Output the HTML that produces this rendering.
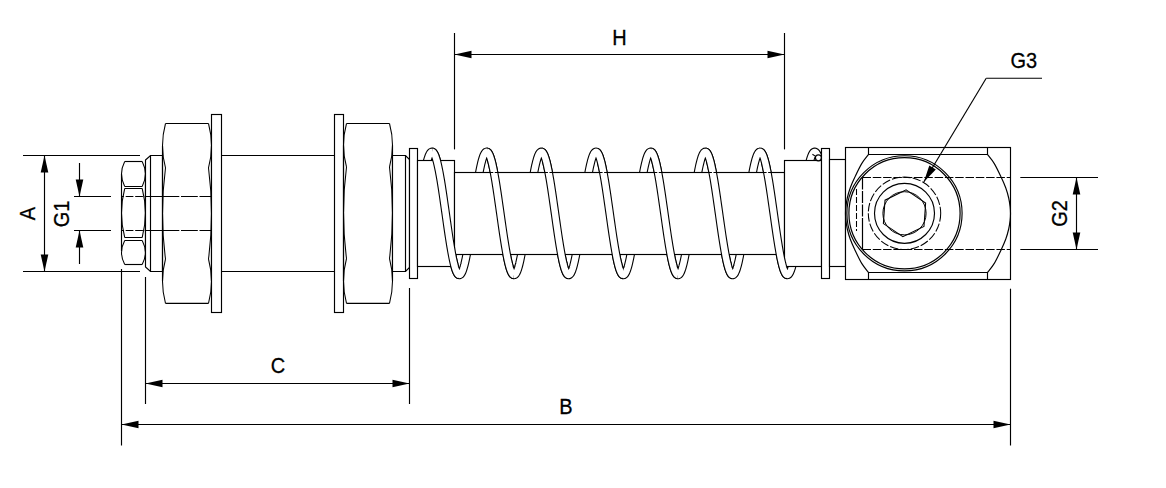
<!DOCTYPE html>
<html><head><meta charset="utf-8"><style>html,body{margin:0;padding:0;background:#fff;width:1166px;height:488px;overflow:hidden}svg{display:block}</style></head>
<body><svg width="1166" height="488" viewBox="0 0 1166 488">
<style>
line,path,rect,circle,polygon{stroke:#000;stroke-width:1.15;fill:none}
.w{fill:#fff}
.f{fill:#000;stroke:none}
.n{stroke-width:1.05}
.d{stroke-dasharray:7 4}
text{font-family:"Liberation Sans",sans-serif;font-size:22.2px;fill:#000;stroke:#000;stroke-width:0.3}
</style>
<rect x="0" y="0" width="1166" height="488" style="fill:#fff;stroke:none"/>
<line x1="23" y1="155.5" x2="140" y2="155.5"/>
<line x1="23" y1="271.5" x2="140" y2="271.5"/>
<line x1="44.5" y1="155.5" x2="44.5" y2="271.5"/>
<path class="f" d="M44.50,155.50 L48.30,172.50 L40.70,172.50 Z"/>
<path class="f" d="M44.50,271.50 L40.70,254.50 L48.30,254.50 Z"/>
<text x="0" y="0" transform="translate(34.5,213.5) rotate(-90) scale(0.9,1)" text-anchor="middle">A</text>
<line x1="74" y1="196.5" x2="111" y2="196.5"/>
<line x1="74" y1="230.5" x2="111" y2="230.5"/>
<line x1="79.5" y1="163" x2="79.5" y2="196.5"/>
<line x1="79.5" y1="230.5" x2="79.5" y2="264"/>
<path class="f" d="M79.50,196.50 L75.70,179.50 L83.30,179.50 Z"/>
<path class="f" d="M79.50,230.50 L83.30,247.50 L75.70,247.50 Z"/>
<text x="0" y="0" transform="translate(69,213.9) rotate(-90) scale(0.9,1)" text-anchor="middle">G1</text>
<rect x="121.5" y="161.5" width="24.0" height="103.0" style="fill:#fff;stroke:none"/>
<line x1="124.7" y1="161.5" x2="142.2" y2="161.5"/>
<line x1="124.7" y1="264.5" x2="142.2" y2="264.5"/>
<line x1="121.5" y1="174" x2="121.5" y2="251"/>
<line x1="145.5" y1="174" x2="145.5" y2="251"/>
<path class="n" d="M124.7,161.5 Q118.3,174.0 124.7,186.5 M142.2,161.5 Q148.6,174.0 142.2,186.5"/>
<path class="n" d="M124.7,188.5 Q118.3,213.0 124.7,237.5 M142.2,188.5 Q148.6,213.0 142.2,237.5"/>
<path class="n" d="M124.7,240.5 Q118.3,252.5 124.7,264.5 M142.2,240.5 Q148.6,252.5 142.2,264.5"/>
<line x1="124.7" y1="186.5" x2="142.2" y2="186.5" class="n"/>
<line x1="124.7" y1="188.5" x2="142.2" y2="188.5" class="n"/>
<line x1="124.7" y1="237.5" x2="142.2" y2="237.5" class="n"/>
<line x1="124.7" y1="240.5" x2="142.2" y2="240.5" class="n"/>
<path class="w" d="M145.5,160 L150.5,155.5 L162.5,155.5 L162.5,271.5 L150.5,271.5 L145.5,267 Z"/>
<line x1="150.5" y1="155.5" x2="150.5" y2="271.5"/>
<path class="w" d="M165.5,123.5 L208.5,123.5 L208.5,303.3 L165.5,303.3 Z" style="stroke:none"/>
<line x1="165.5" y1="123.5" x2="208.5" y2="123.5"/>
<line x1="165.5" y1="303.3" x2="208.5" y2="303.3"/>
<line x1="162.5" y1="145.65" x2="162.5" y2="281.15"/>
<line x1="211.5" y1="145.65" x2="211.5" y2="281.15"/>
<path class="n" d="M165.5,123.5 Q159.5,145.65 165.5,167.8 M208.5,123.5 Q214.5,145.65 208.5,167.8 M165.5,167.8 Q159.5,213.4 165.5,259.0 M208.5,167.8 Q214.5,213.4 208.5,259.0 M165.5,259.0 Q159.5,281.15 165.5,303.3 M208.5,259.0 Q214.5,281.15 208.5,303.3 "/>
<rect x="211.5" y="114.5" width="10.0" height="198.0" class="w"/>
<line x1="221.5" y1="155.5" x2="334.5" y2="155.5"/>
<line x1="221.5" y1="271.5" x2="334.5" y2="271.5"/>
<rect x="334.5" y="114.5" width="9.0" height="198.0" class="w"/>
<path class="w" d="M346.5,123.5 L389.5,123.5 L389.5,303.3 L346.5,303.3 Z" style="stroke:none"/>
<line x1="346.5" y1="123.5" x2="389.5" y2="123.5"/>
<line x1="346.5" y1="303.3" x2="389.5" y2="303.3"/>
<line x1="343.5" y1="145.25" x2="343.5" y2="280.9"/>
<line x1="392.5" y1="145.25" x2="392.5" y2="280.9"/>
<path class="n" d="M346.5,123.5 Q340.5,145.25 346.5,167.0 M389.5,123.5 Q395.5,145.25 389.5,167.0 M346.5,167.0 Q340.5,212.75 346.5,258.5 M389.5,167.0 Q395.5,212.75 389.5,258.5 M346.5,258.5 Q340.5,280.9 346.5,303.3 M389.5,258.5 Q395.5,280.9 389.5,303.3 "/>
<path class="w" d="M392.5,155.5 L405.5,155.5 L409.5,159.5 L409.5,267.5 L405.5,271.5 L392.5,271.5 Z"/>
<line x1="405.5" y1="155.5" x2="405.5" y2="271.5"/>
<path class="n" style="stroke-dasharray:7.7 1.8;stroke-dashoffset:5.3" d="M121.5,196.5 H145.5 M121.5,230.5 H145.5"/>
<line x1="145.5" y1="196.5" x2="162.5" y2="196.5" class="n"/>
<line x1="145.5" y1="230.5" x2="162.5" y2="230.5" class="n"/>
<path class="n" style="stroke-dasharray:16.8 1.7" d="M162.5,196.5 H211.5 M162.5,230.5 H211.5"/>
<defs><clipPath id="cl"><rect x="432" y="0" width="27" height="488"/><rect x="487" y="0" width="27" height="488"/><rect x="542" y="0" width="26" height="488"/><rect x="597" y="0" width="26" height="488"/><rect x="651" y="0" width="27" height="488"/><rect x="706" y="0" width="26" height="488"/><rect x="761" y="0" width="26" height="488"/></clipPath></defs>
<g><path d="M418.33,213.40 L418.77,210.32 L419.20,207.25 L419.64,204.20 L420.07,201.16 L420.51,198.16 L420.94,195.20 L421.38,192.28 L421.82,189.42 L422.25,186.61 L422.69,183.87 L423.12,181.21 L423.56,178.63 L423.99,176.13 L424.43,173.73 L424.86,171.42 L425.30,169.23 L425.73,167.14 L426.17,165.17 L426.60,163.31 L427.04,161.59 L427.47,159.99 L427.91,158.53 L428.34,157.20 L428.78,156.02 L429.22,154.98 L429.65,154.08 L430.09,153.33 L430.52,152.74 L430.96,152.29 L431.39,152.00 L431.83,151.86 L432.26,151.88 L432.70,152.05 L433.13,152.37 L433.57,152.85 L434.00,153.48 L434.44,154.25 L434.87,155.18 L435.31,156.25 L435.75,157.46 L436.18,158.82 L436.62,160.31 L437.05,161.93 L437.49,163.69 L437.92,165.56 L438.36,167.56 L438.79,169.67 L439.23,171.89 L439.66,174.22 L440.10,176.64 L440.53,179.15 L440.97,181.75 L441.40,184.43 L441.84,187.19 L442.27,190.00 L442.71,192.88 L443.15,195.81 L443.58,198.78 L444.02,201.79 L444.45,204.83 L444.89,207.88 L445.32,210.96 L445.76,214.04 L446.19,217.11 L446.63,220.18 L447.06,223.23 L447.50,226.26 L447.93,229.25 L448.37,232.21 L448.80,235.11 L449.24,237.97 L449.68,240.76 L450.11,243.48 L450.55,246.13 L450.98,248.70 L451.42,251.17 L451.85,253.56 L452.29,255.84 L452.72,258.01 L453.16,260.08 L453.59,262.03 L454.03,263.85 L454.46,265.55 L454.90,267.12 L455.33,268.56 L455.77,269.85 L456.21,271.01 L456.64,272.02 L457.08,272.89 L457.51,273.60 L457.95,274.17 L458.38,274.58 L458.82,274.84 L459.25,274.95 L459.69,274.90 L460.12,274.70 L460.56,274.34 L460.99,273.84 L461.43,273.18 L461.86,272.37 L462.30,271.41 L462.73,270.31 L463.17,269.07 L463.61,267.68 L464.04,266.17 L464.48,264.52 L464.91,262.74 L465.35,260.83 L465.78,258.81 L466.22,256.68 L466.65,254.44 L467.09,252.09 L467.52,249.65 L467.96,247.12 L468.39,244.50 L468.83,241.80 L469.26,239.04 L469.70,236.21 L470.14,233.32 L470.57,230.38 L471.01,227.40 L471.44,224.39 L471.88,221.34 L472.31,218.28 L472.75,215.21 L473.18,212.13 L473.62,209.05 L474.05,205.99 L474.49,202.94 L474.92,199.92 L475.36,196.93 L475.79,193.99 L476.23,191.09 L476.66,188.25 L477.10,185.47 L477.54,182.76 L477.97,180.13 L478.41,177.59 L478.84,175.13 L479.28,172.76 L479.71,170.50 L480.15,168.35 L480.58,166.31 L481.02,164.39 L481.45,162.58 L481.89,160.91 L482.32,159.37 L482.76,157.96 L483.19,156.69 L483.63,155.57 L484.07,154.59 L484.50,153.75 L484.94,153.07 L485.37,152.53 L485.81,152.15 L486.24,151.92 L486.68,151.85 L487.11,151.93 L487.55,152.16 L487.98,152.55 L488.42,153.09 L488.85,153.78 L489.29,154.62 L489.72,155.60 L490.16,156.73 L490.60,158.01 L491.03,159.42 L491.47,160.96 L491.90,162.64 L492.34,164.45 L492.77,166.37 L493.21,168.42 L493.64,170.58 L494.08,172.84 L494.51,175.21 L494.95,177.67 L495.38,180.22 L495.82,182.85 L496.25,185.56 L496.69,188.34 L497.12,191.19 L497.56,194.08 L498.00,197.03 L498.43,200.02 L498.87,203.04 L499.30,206.09 L499.74,209.15 L500.17,212.23 L500.61,215.31 L501.04,218.38 L501.48,221.44 L501.91,224.49 L502.35,227.50 L502.78,230.48 L503.22,233.41 L503.65,236.30 L504.09,239.13 L504.53,241.89 L504.96,244.59 L505.40,247.20 L505.83,249.73 L506.27,252.17 L506.70,254.51 L507.14,256.75 L507.57,258.88 L508.01,260.90 L508.44,262.80 L508.88,264.57 L509.31,266.22 L509.75,267.73 L510.18,269.11 L510.62,270.35 L511.05,271.45 L511.49,272.40 L511.93,273.20 L512.36,273.85 L512.80,274.36 L513.23,274.71 L513.67,274.90 L514.10,274.95 L514.54,274.83 L514.97,274.57 L515.41,274.15 L515.84,273.58 L516.28,272.86 L516.71,271.99 L517.15,270.97 L517.58,269.81 L518.02,268.51 L518.46,267.07 L518.89,265.50 L519.33,263.80 L519.76,261.97 L520.20,260.01 L520.63,257.95 L521.07,255.77 L521.50,253.48 L521.94,251.09 L522.37,248.61 L522.81,246.04 L523.24,243.39 L523.68,240.67 L524.11,237.87 L524.55,235.02 L524.98,232.11 L525.42,229.15 L525.86,226.16 L526.29,223.13 L526.73,220.08 L527.16,217.01 L527.60,213.93 L528.03,210.86 L528.47,207.78 L528.90,204.73 L529.34,201.69 L529.77,198.68 L530.21,195.71 L530.64,192.79 L531.08,189.91 L531.51,187.10 L531.95,184.35 L532.39,181.67 L532.82,179.07 L533.26,176.56 L533.69,174.14 L534.13,171.82 L534.56,169.60 L535.00,167.49 L535.43,165.50 L535.87,163.63 L536.30,161.88 L536.74,160.26 L537.17,158.77 L537.61,157.42 L538.04,156.21 L538.48,155.15 L538.92,154.22 L539.35,153.45 L539.79,152.83 L540.22,152.36 L540.66,152.04 L541.09,151.88 L541.53,151.86 L541.96,152.01 L542.40,152.30 L542.83,152.75 L543.27,153.36 L543.70,154.11 L544.14,155.01 L544.57,156.05 L545.01,157.24 L545.44,158.57 L545.88,160.04 L546.32,161.64 L546.75,163.37 L547.19,165.23 L547.62,167.20 L548.06,169.30 L548.49,171.50 L548.93,173.81 L549.36,176.21 L549.80,178.71 L550.23,181.30 L550.67,183.96 L551.10,186.70 L551.54,189.51 L551.97,192.38 L552.41,195.30 L552.85,198.26 L553.28,201.26 L553.72,204.30 L554.15,207.35 L554.59,210.42 L555.02,213.50 L555.46,216.58 L555.89,219.65 L556.33,222.70 L556.76,225.73 L557.20,228.73 L557.63,231.70 L558.07,234.61 L558.50,237.48 L558.94,240.28 L559.37,243.01 L559.81,245.68 L560.25,248.26 L560.68,250.75 L561.12,253.15 L561.55,255.45 L561.99,257.64 L562.42,259.73 L562.86,261.70 L563.29,263.55 L563.73,265.27 L564.16,266.86 L564.60,268.32 L565.03,269.64 L565.47,270.82 L565.90,271.86 L566.34,272.75 L566.78,273.49 L567.21,274.08 L567.65,274.52 L568.08,274.81 L568.52,274.94 L568.95,274.92 L569.39,274.74 L569.82,274.42 L570.26,273.93 L570.69,273.30 L571.13,272.52 L571.56,271.59 L572.00,270.51 L572.43,269.29 L572.87,267.93 L573.31,266.44 L573.74,264.81 L574.18,263.05 L574.61,261.17 L575.05,259.17 L575.48,257.06 L575.92,254.83 L576.35,252.51 L576.79,250.08 L577.22,247.56 L577.66,244.96 L578.09,242.28 L578.53,239.52 L578.96,236.70 L579.40,233.82 L579.83,230.89 L580.27,227.92 L580.71,224.91 L581.14,221.87 L581.58,218.81 L582.01,215.74 L582.45,212.66 L582.88,209.59 L583.32,206.52 L583.75,203.47 L584.19,200.44 L584.62,197.45 L585.06,194.50 L585.49,191.59 L585.93,188.74 L586.36,185.95 L586.80,183.23 L587.24,180.58 L587.67,178.02 L588.11,175.55 L588.54,173.17 L588.98,170.89 L589.41,168.72 L589.85,166.65 L590.28,164.71 L590.72,162.89 L591.15,161.19 L591.59,159.63 L592.02,158.20 L592.46,156.90 L592.89,155.75 L593.33,154.75 L593.76,153.89 L594.20,153.18 L594.64,152.62 L595.07,152.21 L595.51,151.95 L595.94,151.85 L596.38,151.90 L596.81,152.11 L597.25,152.47 L597.68,152.98 L598.12,153.65 L598.55,154.46 L598.99,155.42 L599.42,156.53 L599.86,157.78 L600.29,159.16 L600.73,160.69 L601.17,162.34 L601.60,164.12 L602.04,166.03 L602.47,168.06 L602.91,170.19 L603.34,172.44 L603.78,174.79 L604.21,177.23 L604.65,179.77 L605.08,182.39 L605.52,185.09 L605.95,187.86 L606.39,190.69 L606.82,193.58 L607.26,196.52 L607.70,199.50 L608.13,202.51 L608.57,205.56 L609.00,208.62 L609.44,211.69 L609.87,214.77 L610.31,217.85 L610.74,220.91 L611.18,223.96 L611.61,226.98 L612.05,229.96 L612.48,232.91 L612.92,235.80 L613.35,238.64 L613.79,241.42 L614.22,244.12 L614.66,246.75 L615.10,249.30 L615.53,251.75 L615.97,254.11 L616.40,256.37 L616.84,258.52 L617.27,260.56 L617.71,262.48 L618.14,264.27 L618.58,265.94 L619.01,267.48 L619.45,268.88 L619.88,270.14 L620.32,271.27 L620.75,272.24 L621.19,273.07 L621.63,273.75 L622.06,274.28 L622.50,274.66 L622.93,274.88 L623.37,274.95 L623.80,274.87 L624.24,274.63 L624.67,274.24 L625.11,273.69 L625.54,273.00 L625.98,272.15 L626.41,271.16 L626.85,270.03 L627.28,268.75 L627.72,267.33 L628.15,265.78 L628.59,264.10 L629.03,262.29 L629.46,260.36 L629.90,258.31 L630.33,256.15 L630.77,253.88 L631.20,251.51 L631.64,249.05 L632.07,246.50 L632.51,243.86 L632.94,241.15 L633.38,238.36 L633.81,235.52 L634.25,232.62 L634.68,229.67 L635.12,226.68 L635.56,223.66 L635.99,220.61 L636.43,217.55 L636.86,214.47 L637.30,211.39 L637.73,208.32 L638.17,205.26 L638.60,202.21 L639.04,199.20 L639.47,196.22 L639.91,193.29 L640.34,190.41 L640.78,187.58 L641.21,184.82 L641.65,182.13 L642.09,179.52 L642.52,176.99 L642.96,174.55 L643.39,172.21 L643.83,169.98 L644.26,167.85 L644.70,165.84 L645.13,163.94 L645.57,162.17 L646.00,160.53 L646.44,159.02 L646.87,157.65 L647.31,156.41 L647.74,155.32 L648.18,154.37 L648.61,153.58 L649.05,152.93 L649.49,152.43 L649.92,152.08 L650.36,151.89 L650.79,151.86 L651.23,151.97 L651.66,152.24 L652.10,152.66 L652.53,153.24 L652.97,153.97 L653.40,154.84 L653.84,155.86 L654.27,157.03 L654.71,158.33 L655.14,159.78 L655.58,161.35 L656.02,163.06 L656.45,164.90 L656.89,166.85 L657.32,168.92 L657.76,171.11 L658.19,173.40 L658.63,175.79 L659.06,178.27 L659.50,180.84 L659.93,183.50 L660.37,186.22 L660.80,189.02 L661.24,191.88 L661.67,194.79 L662.11,197.74 L662.54,200.74 L662.98,203.77 L663.42,206.82 L663.85,209.89 L664.29,212.97 L664.72,216.05 L665.16,219.12 L665.59,222.17 L666.03,225.21 L666.46,228.22 L666.90,231.19 L667.33,234.11 L667.77,236.98 L668.20,239.80 L668.64,242.54 L669.07,245.22 L669.51,247.81 L669.95,250.32 L670.38,252.74 L670.82,255.06 L671.25,257.27 L671.69,259.38 L672.12,261.36 L672.56,263.23 L672.99,264.98 L673.43,266.59 L673.86,268.07 L674.30,269.42 L674.73,270.63 L675.17,271.69 L675.60,272.60 L676.04,273.37 L676.48,273.99 L676.91,274.45 L677.35,274.77 L677.78,274.93 L678.22,274.93 L678.65,274.79 L679.09,274.48 L679.52,274.03 L679.96,273.42 L680.39,272.67 L680.83,271.76 L681.26,270.71 L681.70,269.52 L682.13,268.18 L682.57,266.71 L683.00,265.10 L683.44,263.37 L683.88,261.51 L684.31,259.53 L684.75,257.43 L685.18,255.23 L685.62,252.92 L686.05,250.51 L686.49,248.01 L686.92,245.42 L687.36,242.75 L687.79,240.00 L688.23,237.20 L688.66,234.33 L689.10,231.41 L689.53,228.44 L689.97,225.44 L690.41,222.40 L690.84,219.35 L691.28,216.28 L691.71,213.20 L692.15,210.12 L692.58,207.05 L693.02,204.00 L693.45,200.97 L693.89,197.97 L694.32,195.01 L694.76,192.09 L695.19,189.23 L695.63,186.43 L696.06,183.70 L696.50,181.04 L696.93,178.46 L697.37,175.97 L697.81,173.57 L698.24,171.28 L698.68,169.08 L699.11,167.00 L699.55,165.04 L699.98,163.20 L700.42,161.48 L700.85,159.89 L701.29,158.44 L701.72,157.12 L702.16,155.94 L702.59,154.91 L703.03,154.03 L703.46,153.29 L703.90,152.70 L704.34,152.27 L704.77,151.99 L705.21,151.86 L705.64,151.88 L706.08,152.06 L706.51,152.40 L706.95,152.88 L707.38,153.52 L707.82,154.31 L708.25,155.24 L708.69,156.33 L709.12,157.55 L709.56,158.91 L709.99,160.41 L710.43,162.04 L710.87,163.81 L711.30,165.69 L711.74,167.70 L712.17,169.81 L712.61,172.04 L713.04,174.37 L713.48,176.80 L713.91,179.32 L714.35,181.93 L714.78,184.61 L715.22,187.37 L715.65,190.19 L716.09,193.07 L716.52,196.00 L716.96,198.98 L717.39,201.99 L717.83,205.03 L718.27,208.09 L718.70,211.16 L719.14,214.24 L719.57,217.32 L720.01,220.38 L720.44,223.43 L720.88,226.46 L721.31,229.45 L721.75,232.40 L722.18,235.30 L722.62,238.15 L723.05,240.94 L723.49,243.66 L723.92,246.30 L724.36,248.86 L724.80,251.33 L725.23,253.71 L725.67,255.99 L726.10,258.15 L726.54,260.21 L726.97,262.15 L727.41,263.97 L727.84,265.66 L728.28,267.22 L728.71,268.65 L729.15,269.94 L729.58,271.08 L730.02,272.08 L730.45,272.94 L730.89,273.64 L731.32,274.20 L731.76,274.60 L732.20,274.85 L732.63,274.95 L733.07,274.89 L733.50,274.68 L733.94,274.31 L734.37,273.80 L734.81,273.13 L735.24,272.31 L735.68,271.34 L736.11,270.23 L736.55,268.98 L736.98,267.59 L737.42,266.06 L737.85,264.40 L738.29,262.62 L738.73,260.70 L739.16,258.68 L739.60,256.53 L740.03,254.28 L740.47,251.93 L740.90,249.48 L741.34,246.95 L741.77,244.32 L742.21,241.62 L742.64,238.85 L743.08,236.02 L743.51,233.13 L743.95,230.19 L744.38,227.20 L744.82,224.19 L745.26,221.14 L745.69,218.08 L746.13,215.00 L746.56,211.93 L747.00,208.85 L747.43,205.79 L747.87,202.74 L748.30,199.72 L748.74,196.74 L749.17,193.80 L749.61,190.90 L750.04,188.07 L750.48,185.29 L750.91,182.59 L751.35,179.96 L751.78,177.42 L752.22,174.97 L752.66,172.61 L753.09,170.36 L753.53,168.21 L753.96,166.18 L754.40,164.26 L754.83,162.47 L755.27,160.81 L755.70,159.27 L756.14,157.88 L756.57,156.62 L757.01,155.50 L757.44,154.53 L757.88,153.70 L758.31,153.03 L758.75,152.50 L759.19,152.13 L759.62,151.91 L760.06,151.85 L760.49,151.94 L760.93,152.18 L761.36,152.58 L761.80,153.13 L762.23,153.83 L762.67,154.68 L763.10,155.67 L763.54,156.81 L763.97,158.10 L764.41,159.52 L764.84,161.07 L765.28,162.76 L765.71,164.57 L766.15,166.50 L766.59,168.56 L767.02,170.72 L767.46,172.99 L767.89,175.37 L768.33,177.83 L768.76,180.39 L769.20,183.03 L769.63,185.74 L770.07,188.53 L770.50,191.38 L770.94,194.28 L771.37,197.23 L771.81,200.22 L772.24,203.24 L772.68,206.29 L773.12,209.36 L773.55,212.43 L773.99,215.51 L774.42,218.58 L774.86,221.64 L775.29,224.68 L775.73,227.70 L776.16,230.67 L776.60,233.61 L777.03,236.49 L777.47,239.31 L777.90,242.07 L778.34,244.76 L778.77,247.37 L779.21,249.89 L779.65,252.33 L780.08,254.66 L780.52,256.89 L780.95,259.02 L781.39,261.03 L781.82,262.92 L782.26,264.68 L782.69,266.32 L783.13,267.83 L783.56,269.20 L784.00,270.43 L784.43,271.51 L784.87,272.45 L785.30,273.25 L785.74,273.89 L786.17,274.38 L786.61,274.72 L787.05,274.91 L787.48,274.94 L787.92,274.82 L788.35,274.55 L788.79,274.12 L789.22,273.54 L789.66,272.81 L790.09,271.93 L790.53,270.90 L790.96,269.73 L791.40,268.42 L791.83,266.97 L792.27,265.39 L792.70,263.68 L793.14,261.84 L793.58,259.88 L794.01,257.80 L794.45,255.62 L794.88,253.33 L795.32,250.93 L795.75,248.45 L796.19,245.87 L796.62,243.22 L797.06,240.49 L797.49,237.69 L797.93,234.83 L798.36,231.92 L798.80,228.96 L799.23,225.96 L799.67,222.93 L800.10,219.88 L800.54,216.81 L800.98,213.73 L801.41,210.65 L801.85,207.58 L802.28,204.53 L802.72,201.49 L803.15,198.49 L803.59,195.52 L804.02,192.59 L804.46,189.72 L804.89,186.91 L805.33,184.17 L805.76,181.49 L806.20,178.90 L806.63,176.40 L807.07,173.98 L807.51,171.67 L807.94,169.46 L808.38,167.36 L808.81,165.37 L809.25,163.51 L809.68,161.77 L810.12,160.16 L810.55,158.68 L810.99,157.34 L811.42,156.14 L811.86,155.08 L812.29,154.17 L812.73,153.41 L813.16,152.79 L813.60,152.33 L814.04,152.02 L814.47,151.87 L814.91,151.87 L815.34,152.02 L815.78,152.33 L816.21,152.79 L816.65,153.40 L817.08,154.16 L817.52,155.07 L817.95,156.13" style="stroke:#000;stroke-width:8.6;stroke-linejoin:round"/><path d="M418.33,213.40 L418.77,210.32 L419.20,207.25 L419.64,204.20 L420.07,201.16 L420.51,198.16 L420.94,195.20 L421.38,192.28 L421.82,189.42 L422.25,186.61 L422.69,183.87 L423.12,181.21 L423.56,178.63 L423.99,176.13 L424.43,173.73 L424.86,171.42 L425.30,169.23 L425.73,167.14 L426.17,165.17 L426.60,163.31 L427.04,161.59 L427.47,159.99 L427.91,158.53 L428.34,157.20 L428.78,156.02 L429.22,154.98 L429.65,154.08 L430.09,153.33 L430.52,152.74 L430.96,152.29 L431.39,152.00 L431.83,151.86 L432.26,151.88 L432.70,152.05 L433.13,152.37 L433.57,152.85 L434.00,153.48 L434.44,154.25 L434.87,155.18 L435.31,156.25 L435.75,157.46 L436.18,158.82 L436.62,160.31 L437.05,161.93 L437.49,163.69 L437.92,165.56 L438.36,167.56 L438.79,169.67 L439.23,171.89 L439.66,174.22 L440.10,176.64 L440.53,179.15 L440.97,181.75 L441.40,184.43 L441.84,187.19 L442.27,190.00 L442.71,192.88 L443.15,195.81 L443.58,198.78 L444.02,201.79 L444.45,204.83 L444.89,207.88 L445.32,210.96 L445.76,214.04 L446.19,217.11 L446.63,220.18 L447.06,223.23 L447.50,226.26 L447.93,229.25 L448.37,232.21 L448.80,235.11 L449.24,237.97 L449.68,240.76 L450.11,243.48 L450.55,246.13 L450.98,248.70 L451.42,251.17 L451.85,253.56 L452.29,255.84 L452.72,258.01 L453.16,260.08 L453.59,262.03 L454.03,263.85 L454.46,265.55 L454.90,267.12 L455.33,268.56 L455.77,269.85 L456.21,271.01 L456.64,272.02 L457.08,272.89 L457.51,273.60 L457.95,274.17 L458.38,274.58 L458.82,274.84 L459.25,274.95 L459.69,274.90 L460.12,274.70 L460.56,274.34 L460.99,273.84 L461.43,273.18 L461.86,272.37 L462.30,271.41 L462.73,270.31 L463.17,269.07 L463.61,267.68 L464.04,266.17 L464.48,264.52 L464.91,262.74 L465.35,260.83 L465.78,258.81 L466.22,256.68 L466.65,254.44 L467.09,252.09 L467.52,249.65 L467.96,247.12 L468.39,244.50 L468.83,241.80 L469.26,239.04 L469.70,236.21 L470.14,233.32 L470.57,230.38 L471.01,227.40 L471.44,224.39 L471.88,221.34 L472.31,218.28 L472.75,215.21 L473.18,212.13 L473.62,209.05 L474.05,205.99 L474.49,202.94 L474.92,199.92 L475.36,196.93 L475.79,193.99 L476.23,191.09 L476.66,188.25 L477.10,185.47 L477.54,182.76 L477.97,180.13 L478.41,177.59 L478.84,175.13 L479.28,172.76 L479.71,170.50 L480.15,168.35 L480.58,166.31 L481.02,164.39 L481.45,162.58 L481.89,160.91 L482.32,159.37 L482.76,157.96 L483.19,156.69 L483.63,155.57 L484.07,154.59 L484.50,153.75 L484.94,153.07 L485.37,152.53 L485.81,152.15 L486.24,151.92 L486.68,151.85 L487.11,151.93 L487.55,152.16 L487.98,152.55 L488.42,153.09 L488.85,153.78 L489.29,154.62 L489.72,155.60 L490.16,156.73 L490.60,158.01 L491.03,159.42 L491.47,160.96 L491.90,162.64 L492.34,164.45 L492.77,166.37 L493.21,168.42 L493.64,170.58 L494.08,172.84 L494.51,175.21 L494.95,177.67 L495.38,180.22 L495.82,182.85 L496.25,185.56 L496.69,188.34 L497.12,191.19 L497.56,194.08 L498.00,197.03 L498.43,200.02 L498.87,203.04 L499.30,206.09 L499.74,209.15 L500.17,212.23 L500.61,215.31 L501.04,218.38 L501.48,221.44 L501.91,224.49 L502.35,227.50 L502.78,230.48 L503.22,233.41 L503.65,236.30 L504.09,239.13 L504.53,241.89 L504.96,244.59 L505.40,247.20 L505.83,249.73 L506.27,252.17 L506.70,254.51 L507.14,256.75 L507.57,258.88 L508.01,260.90 L508.44,262.80 L508.88,264.57 L509.31,266.22 L509.75,267.73 L510.18,269.11 L510.62,270.35 L511.05,271.45 L511.49,272.40 L511.93,273.20 L512.36,273.85 L512.80,274.36 L513.23,274.71 L513.67,274.90 L514.10,274.95 L514.54,274.83 L514.97,274.57 L515.41,274.15 L515.84,273.58 L516.28,272.86 L516.71,271.99 L517.15,270.97 L517.58,269.81 L518.02,268.51 L518.46,267.07 L518.89,265.50 L519.33,263.80 L519.76,261.97 L520.20,260.01 L520.63,257.95 L521.07,255.77 L521.50,253.48 L521.94,251.09 L522.37,248.61 L522.81,246.04 L523.24,243.39 L523.68,240.67 L524.11,237.87 L524.55,235.02 L524.98,232.11 L525.42,229.15 L525.86,226.16 L526.29,223.13 L526.73,220.08 L527.16,217.01 L527.60,213.93 L528.03,210.86 L528.47,207.78 L528.90,204.73 L529.34,201.69 L529.77,198.68 L530.21,195.71 L530.64,192.79 L531.08,189.91 L531.51,187.10 L531.95,184.35 L532.39,181.67 L532.82,179.07 L533.26,176.56 L533.69,174.14 L534.13,171.82 L534.56,169.60 L535.00,167.49 L535.43,165.50 L535.87,163.63 L536.30,161.88 L536.74,160.26 L537.17,158.77 L537.61,157.42 L538.04,156.21 L538.48,155.15 L538.92,154.22 L539.35,153.45 L539.79,152.83 L540.22,152.36 L540.66,152.04 L541.09,151.88 L541.53,151.86 L541.96,152.01 L542.40,152.30 L542.83,152.75 L543.27,153.36 L543.70,154.11 L544.14,155.01 L544.57,156.05 L545.01,157.24 L545.44,158.57 L545.88,160.04 L546.32,161.64 L546.75,163.37 L547.19,165.23 L547.62,167.20 L548.06,169.30 L548.49,171.50 L548.93,173.81 L549.36,176.21 L549.80,178.71 L550.23,181.30 L550.67,183.96 L551.10,186.70 L551.54,189.51 L551.97,192.38 L552.41,195.30 L552.85,198.26 L553.28,201.26 L553.72,204.30 L554.15,207.35 L554.59,210.42 L555.02,213.50 L555.46,216.58 L555.89,219.65 L556.33,222.70 L556.76,225.73 L557.20,228.73 L557.63,231.70 L558.07,234.61 L558.50,237.48 L558.94,240.28 L559.37,243.01 L559.81,245.68 L560.25,248.26 L560.68,250.75 L561.12,253.15 L561.55,255.45 L561.99,257.64 L562.42,259.73 L562.86,261.70 L563.29,263.55 L563.73,265.27 L564.16,266.86 L564.60,268.32 L565.03,269.64 L565.47,270.82 L565.90,271.86 L566.34,272.75 L566.78,273.49 L567.21,274.08 L567.65,274.52 L568.08,274.81 L568.52,274.94 L568.95,274.92 L569.39,274.74 L569.82,274.42 L570.26,273.93 L570.69,273.30 L571.13,272.52 L571.56,271.59 L572.00,270.51 L572.43,269.29 L572.87,267.93 L573.31,266.44 L573.74,264.81 L574.18,263.05 L574.61,261.17 L575.05,259.17 L575.48,257.06 L575.92,254.83 L576.35,252.51 L576.79,250.08 L577.22,247.56 L577.66,244.96 L578.09,242.28 L578.53,239.52 L578.96,236.70 L579.40,233.82 L579.83,230.89 L580.27,227.92 L580.71,224.91 L581.14,221.87 L581.58,218.81 L582.01,215.74 L582.45,212.66 L582.88,209.59 L583.32,206.52 L583.75,203.47 L584.19,200.44 L584.62,197.45 L585.06,194.50 L585.49,191.59 L585.93,188.74 L586.36,185.95 L586.80,183.23 L587.24,180.58 L587.67,178.02 L588.11,175.55 L588.54,173.17 L588.98,170.89 L589.41,168.72 L589.85,166.65 L590.28,164.71 L590.72,162.89 L591.15,161.19 L591.59,159.63 L592.02,158.20 L592.46,156.90 L592.89,155.75 L593.33,154.75 L593.76,153.89 L594.20,153.18 L594.64,152.62 L595.07,152.21 L595.51,151.95 L595.94,151.85 L596.38,151.90 L596.81,152.11 L597.25,152.47 L597.68,152.98 L598.12,153.65 L598.55,154.46 L598.99,155.42 L599.42,156.53 L599.86,157.78 L600.29,159.16 L600.73,160.69 L601.17,162.34 L601.60,164.12 L602.04,166.03 L602.47,168.06 L602.91,170.19 L603.34,172.44 L603.78,174.79 L604.21,177.23 L604.65,179.77 L605.08,182.39 L605.52,185.09 L605.95,187.86 L606.39,190.69 L606.82,193.58 L607.26,196.52 L607.70,199.50 L608.13,202.51 L608.57,205.56 L609.00,208.62 L609.44,211.69 L609.87,214.77 L610.31,217.85 L610.74,220.91 L611.18,223.96 L611.61,226.98 L612.05,229.96 L612.48,232.91 L612.92,235.80 L613.35,238.64 L613.79,241.42 L614.22,244.12 L614.66,246.75 L615.10,249.30 L615.53,251.75 L615.97,254.11 L616.40,256.37 L616.84,258.52 L617.27,260.56 L617.71,262.48 L618.14,264.27 L618.58,265.94 L619.01,267.48 L619.45,268.88 L619.88,270.14 L620.32,271.27 L620.75,272.24 L621.19,273.07 L621.63,273.75 L622.06,274.28 L622.50,274.66 L622.93,274.88 L623.37,274.95 L623.80,274.87 L624.24,274.63 L624.67,274.24 L625.11,273.69 L625.54,273.00 L625.98,272.15 L626.41,271.16 L626.85,270.03 L627.28,268.75 L627.72,267.33 L628.15,265.78 L628.59,264.10 L629.03,262.29 L629.46,260.36 L629.90,258.31 L630.33,256.15 L630.77,253.88 L631.20,251.51 L631.64,249.05 L632.07,246.50 L632.51,243.86 L632.94,241.15 L633.38,238.36 L633.81,235.52 L634.25,232.62 L634.68,229.67 L635.12,226.68 L635.56,223.66 L635.99,220.61 L636.43,217.55 L636.86,214.47 L637.30,211.39 L637.73,208.32 L638.17,205.26 L638.60,202.21 L639.04,199.20 L639.47,196.22 L639.91,193.29 L640.34,190.41 L640.78,187.58 L641.21,184.82 L641.65,182.13 L642.09,179.52 L642.52,176.99 L642.96,174.55 L643.39,172.21 L643.83,169.98 L644.26,167.85 L644.70,165.84 L645.13,163.94 L645.57,162.17 L646.00,160.53 L646.44,159.02 L646.87,157.65 L647.31,156.41 L647.74,155.32 L648.18,154.37 L648.61,153.58 L649.05,152.93 L649.49,152.43 L649.92,152.08 L650.36,151.89 L650.79,151.86 L651.23,151.97 L651.66,152.24 L652.10,152.66 L652.53,153.24 L652.97,153.97 L653.40,154.84 L653.84,155.86 L654.27,157.03 L654.71,158.33 L655.14,159.78 L655.58,161.35 L656.02,163.06 L656.45,164.90 L656.89,166.85 L657.32,168.92 L657.76,171.11 L658.19,173.40 L658.63,175.79 L659.06,178.27 L659.50,180.84 L659.93,183.50 L660.37,186.22 L660.80,189.02 L661.24,191.88 L661.67,194.79 L662.11,197.74 L662.54,200.74 L662.98,203.77 L663.42,206.82 L663.85,209.89 L664.29,212.97 L664.72,216.05 L665.16,219.12 L665.59,222.17 L666.03,225.21 L666.46,228.22 L666.90,231.19 L667.33,234.11 L667.77,236.98 L668.20,239.80 L668.64,242.54 L669.07,245.22 L669.51,247.81 L669.95,250.32 L670.38,252.74 L670.82,255.06 L671.25,257.27 L671.69,259.38 L672.12,261.36 L672.56,263.23 L672.99,264.98 L673.43,266.59 L673.86,268.07 L674.30,269.42 L674.73,270.63 L675.17,271.69 L675.60,272.60 L676.04,273.37 L676.48,273.99 L676.91,274.45 L677.35,274.77 L677.78,274.93 L678.22,274.93 L678.65,274.79 L679.09,274.48 L679.52,274.03 L679.96,273.42 L680.39,272.67 L680.83,271.76 L681.26,270.71 L681.70,269.52 L682.13,268.18 L682.57,266.71 L683.00,265.10 L683.44,263.37 L683.88,261.51 L684.31,259.53 L684.75,257.43 L685.18,255.23 L685.62,252.92 L686.05,250.51 L686.49,248.01 L686.92,245.42 L687.36,242.75 L687.79,240.00 L688.23,237.20 L688.66,234.33 L689.10,231.41 L689.53,228.44 L689.97,225.44 L690.41,222.40 L690.84,219.35 L691.28,216.28 L691.71,213.20 L692.15,210.12 L692.58,207.05 L693.02,204.00 L693.45,200.97 L693.89,197.97 L694.32,195.01 L694.76,192.09 L695.19,189.23 L695.63,186.43 L696.06,183.70 L696.50,181.04 L696.93,178.46 L697.37,175.97 L697.81,173.57 L698.24,171.28 L698.68,169.08 L699.11,167.00 L699.55,165.04 L699.98,163.20 L700.42,161.48 L700.85,159.89 L701.29,158.44 L701.72,157.12 L702.16,155.94 L702.59,154.91 L703.03,154.03 L703.46,153.29 L703.90,152.70 L704.34,152.27 L704.77,151.99 L705.21,151.86 L705.64,151.88 L706.08,152.06 L706.51,152.40 L706.95,152.88 L707.38,153.52 L707.82,154.31 L708.25,155.24 L708.69,156.33 L709.12,157.55 L709.56,158.91 L709.99,160.41 L710.43,162.04 L710.87,163.81 L711.30,165.69 L711.74,167.70 L712.17,169.81 L712.61,172.04 L713.04,174.37 L713.48,176.80 L713.91,179.32 L714.35,181.93 L714.78,184.61 L715.22,187.37 L715.65,190.19 L716.09,193.07 L716.52,196.00 L716.96,198.98 L717.39,201.99 L717.83,205.03 L718.27,208.09 L718.70,211.16 L719.14,214.24 L719.57,217.32 L720.01,220.38 L720.44,223.43 L720.88,226.46 L721.31,229.45 L721.75,232.40 L722.18,235.30 L722.62,238.15 L723.05,240.94 L723.49,243.66 L723.92,246.30 L724.36,248.86 L724.80,251.33 L725.23,253.71 L725.67,255.99 L726.10,258.15 L726.54,260.21 L726.97,262.15 L727.41,263.97 L727.84,265.66 L728.28,267.22 L728.71,268.65 L729.15,269.94 L729.58,271.08 L730.02,272.08 L730.45,272.94 L730.89,273.64 L731.32,274.20 L731.76,274.60 L732.20,274.85 L732.63,274.95 L733.07,274.89 L733.50,274.68 L733.94,274.31 L734.37,273.80 L734.81,273.13 L735.24,272.31 L735.68,271.34 L736.11,270.23 L736.55,268.98 L736.98,267.59 L737.42,266.06 L737.85,264.40 L738.29,262.62 L738.73,260.70 L739.16,258.68 L739.60,256.53 L740.03,254.28 L740.47,251.93 L740.90,249.48 L741.34,246.95 L741.77,244.32 L742.21,241.62 L742.64,238.85 L743.08,236.02 L743.51,233.13 L743.95,230.19 L744.38,227.20 L744.82,224.19 L745.26,221.14 L745.69,218.08 L746.13,215.00 L746.56,211.93 L747.00,208.85 L747.43,205.79 L747.87,202.74 L748.30,199.72 L748.74,196.74 L749.17,193.80 L749.61,190.90 L750.04,188.07 L750.48,185.29 L750.91,182.59 L751.35,179.96 L751.78,177.42 L752.22,174.97 L752.66,172.61 L753.09,170.36 L753.53,168.21 L753.96,166.18 L754.40,164.26 L754.83,162.47 L755.27,160.81 L755.70,159.27 L756.14,157.88 L756.57,156.62 L757.01,155.50 L757.44,154.53 L757.88,153.70 L758.31,153.03 L758.75,152.50 L759.19,152.13 L759.62,151.91 L760.06,151.85 L760.49,151.94 L760.93,152.18 L761.36,152.58 L761.80,153.13 L762.23,153.83 L762.67,154.68 L763.10,155.67 L763.54,156.81 L763.97,158.10 L764.41,159.52 L764.84,161.07 L765.28,162.76 L765.71,164.57 L766.15,166.50 L766.59,168.56 L767.02,170.72 L767.46,172.99 L767.89,175.37 L768.33,177.83 L768.76,180.39 L769.20,183.03 L769.63,185.74 L770.07,188.53 L770.50,191.38 L770.94,194.28 L771.37,197.23 L771.81,200.22 L772.24,203.24 L772.68,206.29 L773.12,209.36 L773.55,212.43 L773.99,215.51 L774.42,218.58 L774.86,221.64 L775.29,224.68 L775.73,227.70 L776.16,230.67 L776.60,233.61 L777.03,236.49 L777.47,239.31 L777.90,242.07 L778.34,244.76 L778.77,247.37 L779.21,249.89 L779.65,252.33 L780.08,254.66 L780.52,256.89 L780.95,259.02 L781.39,261.03 L781.82,262.92 L782.26,264.68 L782.69,266.32 L783.13,267.83 L783.56,269.20 L784.00,270.43 L784.43,271.51 L784.87,272.45 L785.30,273.25 L785.74,273.89 L786.17,274.38 L786.61,274.72 L787.05,274.91 L787.48,274.94 L787.92,274.82 L788.35,274.55 L788.79,274.12 L789.22,273.54 L789.66,272.81 L790.09,271.93 L790.53,270.90 L790.96,269.73 L791.40,268.42 L791.83,266.97 L792.27,265.39 L792.70,263.68 L793.14,261.84 L793.58,259.88 L794.01,257.80 L794.45,255.62 L794.88,253.33 L795.32,250.93 L795.75,248.45 L796.19,245.87 L796.62,243.22 L797.06,240.49 L797.49,237.69 L797.93,234.83 L798.36,231.92 L798.80,228.96 L799.23,225.96 L799.67,222.93 L800.10,219.88 L800.54,216.81 L800.98,213.73 L801.41,210.65 L801.85,207.58 L802.28,204.53 L802.72,201.49 L803.15,198.49 L803.59,195.52 L804.02,192.59 L804.46,189.72 L804.89,186.91 L805.33,184.17 L805.76,181.49 L806.20,178.90 L806.63,176.40 L807.07,173.98 L807.51,171.67 L807.94,169.46 L808.38,167.36 L808.81,165.37 L809.25,163.51 L809.68,161.77 L810.12,160.16 L810.55,158.68 L810.99,157.34 L811.42,156.14 L811.86,155.08 L812.29,154.17 L812.73,153.41 L813.16,152.79 L813.60,152.33 L814.04,152.02 L814.47,151.87 L814.91,151.87 L815.34,152.02 L815.78,152.33 L816.21,152.79 L816.65,153.40 L817.08,154.16 L817.52,155.07 L817.95,156.13" style="stroke:#fff;stroke-width:6.4"/></g>
<rect x="409.5" y="148.5" width="8.0" height="130.0" class="w"/>
<rect x="417.5" y="160.5" width="37.0" height="106.0" class="w"/>
<rect x="454.5" y="172.5" width="330.0" height="82.0" class="w"/>
<rect x="784.5" y="160.5" width="37.0" height="106.0" class="w"/>
<g clip-path="url(#cl)"><path d="M432.00,151.85 L432.44,151.93 L432.88,152.17 L433.32,152.56 L433.76,153.11 L434.20,153.81 L434.65,154.67 L435.09,155.68 L435.53,156.84 L435.97,158.14 L436.41,159.58 L436.85,161.17 L437.29,162.88 L437.73,164.73 L438.17,166.70 L438.61,168.79 L439.05,170.99 L439.50,173.31 L439.94,175.72 L440.38,178.24 L440.82,180.84 L441.26,183.53 L441.70,186.29 L442.14,189.13 L442.58,192.02 L443.02,194.97 L443.46,197.97 L443.90,201.01 L444.34,204.08 L444.79,207.17 L445.23,210.28 L445.67,213.40 L446.11,216.52 L446.55,219.63 L446.99,222.72 L447.43,225.79 L447.87,228.83 L448.31,231.83 L448.75,234.78 L449.19,237.67 L449.64,240.51 L450.08,243.27 L450.52,245.96 L450.96,248.56 L451.40,251.08 L451.84,253.49 L452.28,255.81 L452.72,258.01 L453.16,260.10 L453.60,262.07 L454.04,263.92 L454.49,265.63 L454.93,267.22 L455.37,268.66 L455.81,269.96 L456.25,271.12 L456.69,272.13 L457.13,272.99 L457.57,273.69 L458.01,274.24 L458.45,274.63 L458.89,274.87 L459.33,274.95 M486.67,151.85 L487.11,151.93 L487.55,152.17 L487.99,152.56 L488.43,153.11 L488.87,153.81 L489.32,154.67 L489.76,155.68 L490.20,156.84 L490.64,158.14 L491.08,159.58 L491.52,161.17 L491.96,162.88 L492.40,164.73 L492.84,166.70 L493.28,168.79 L493.72,170.99 L494.17,173.31 L494.61,175.72 L495.05,178.24 L495.49,180.84 L495.93,183.53 L496.37,186.29 L496.81,189.13 L497.25,192.02 L497.69,194.97 L498.13,197.97 L498.57,201.01 L499.01,204.08 L499.46,207.17 L499.90,210.28 L500.34,213.40 L500.78,216.52 L501.22,219.63 L501.66,222.72 L502.10,225.79 L502.54,228.83 L502.98,231.83 L503.42,234.78 L503.86,237.67 L504.31,240.51 L504.75,243.27 L505.19,245.96 L505.63,248.56 L506.07,251.08 L506.51,253.49 L506.95,255.81 L507.39,258.01 L507.83,260.10 L508.27,262.07 L508.71,263.92 L509.16,265.63 L509.60,267.22 L510.04,268.66 L510.48,269.96 L510.92,271.12 L511.36,272.13 L511.80,272.99 L512.24,273.69 L512.68,274.24 L513.12,274.63 L513.56,274.87 L514.00,274.95 M541.34,151.85 L541.78,151.93 L542.22,152.17 L542.66,152.56 L543.10,153.11 L543.54,153.81 L543.99,154.67 L544.43,155.68 L544.87,156.84 L545.31,158.14 L545.75,159.58 L546.19,161.17 L546.63,162.88 L547.07,164.73 L547.51,166.70 L547.95,168.79 L548.39,170.99 L548.84,173.31 L549.28,175.72 L549.72,178.24 L550.16,180.84 L550.60,183.53 L551.04,186.29 L551.48,189.13 L551.92,192.02 L552.36,194.97 L552.80,197.97 L553.24,201.01 L553.68,204.08 L554.13,207.17 L554.57,210.28 L555.01,213.40 L555.45,216.52 L555.89,219.63 L556.33,222.72 L556.77,225.79 L557.21,228.83 L557.65,231.83 L558.09,234.78 L558.53,237.67 L558.98,240.51 L559.42,243.27 L559.86,245.96 L560.30,248.56 L560.74,251.08 L561.18,253.49 L561.62,255.81 L562.06,258.01 L562.50,260.10 L562.94,262.07 L563.38,263.92 L563.83,265.63 L564.27,267.22 L564.71,268.66 L565.15,269.96 L565.59,271.12 L566.03,272.13 L566.47,272.99 L566.91,273.69 L567.35,274.24 L567.79,274.63 L568.23,274.87 L568.67,274.95 M596.01,151.85 L596.45,151.93 L596.89,152.17 L597.33,152.56 L597.77,153.11 L598.21,153.81 L598.66,154.67 L599.10,155.68 L599.54,156.84 L599.98,158.14 L600.42,159.58 L600.86,161.17 L601.30,162.88 L601.74,164.73 L602.18,166.70 L602.62,168.79 L603.06,170.99 L603.51,173.31 L603.95,175.72 L604.39,178.24 L604.83,180.84 L605.27,183.53 L605.71,186.29 L606.15,189.13 L606.59,192.02 L607.03,194.97 L607.47,197.97 L607.91,201.01 L608.35,204.08 L608.80,207.17 L609.24,210.28 L609.68,213.40 L610.12,216.52 L610.56,219.63 L611.00,222.72 L611.44,225.79 L611.88,228.83 L612.32,231.83 L612.76,234.78 L613.20,237.67 L613.65,240.51 L614.09,243.27 L614.53,245.96 L614.97,248.56 L615.41,251.08 L615.85,253.49 L616.29,255.81 L616.73,258.01 L617.17,260.10 L617.61,262.07 L618.05,263.92 L618.50,265.63 L618.94,267.22 L619.38,268.66 L619.82,269.96 L620.26,271.12 L620.70,272.13 L621.14,272.99 L621.58,273.69 L622.02,274.24 L622.46,274.63 L622.90,274.87 L623.35,274.95 M650.68,151.85 L651.12,151.93 L651.56,152.17 L652.00,152.56 L652.44,153.11 L652.88,153.81 L653.33,154.67 L653.77,155.68 L654.21,156.84 L654.65,158.14 L655.09,159.58 L655.53,161.17 L655.97,162.88 L656.41,164.73 L656.85,166.70 L657.29,168.79 L657.73,170.99 L658.18,173.31 L658.62,175.72 L659.06,178.24 L659.50,180.84 L659.94,183.53 L660.38,186.29 L660.82,189.13 L661.26,192.02 L661.70,194.97 L662.14,197.97 L662.58,201.01 L663.02,204.08 L663.47,207.17 L663.91,210.28 L664.35,213.40 L664.79,216.52 L665.23,219.63 L665.67,222.72 L666.11,225.79 L666.55,228.83 L666.99,231.83 L667.43,234.78 L667.87,237.67 L668.32,240.51 L668.76,243.27 L669.20,245.96 L669.64,248.56 L670.08,251.08 L670.52,253.49 L670.96,255.81 L671.40,258.01 L671.84,260.10 L672.28,262.07 L672.72,263.92 L673.17,265.63 L673.61,267.22 L674.05,268.66 L674.49,269.96 L674.93,271.12 L675.37,272.13 L675.81,272.99 L676.25,273.69 L676.69,274.24 L677.13,274.63 L677.57,274.87 L678.01,274.95 M705.35,151.85 L705.79,151.93 L706.23,152.17 L706.67,152.56 L707.11,153.11 L707.55,153.81 L708.00,154.67 L708.44,155.68 L708.88,156.84 L709.32,158.14 L709.76,159.58 L710.20,161.17 L710.64,162.88 L711.08,164.73 L711.52,166.70 L711.96,168.79 L712.40,170.99 L712.85,173.31 L713.29,175.72 L713.73,178.24 L714.17,180.84 L714.61,183.53 L715.05,186.29 L715.49,189.13 L715.93,192.02 L716.37,194.97 L716.81,197.97 L717.25,201.01 L717.69,204.08 L718.14,207.17 L718.58,210.28 L719.02,213.40 L719.46,216.52 L719.90,219.63 L720.34,222.72 L720.78,225.79 L721.22,228.83 L721.66,231.83 L722.10,234.78 L722.54,237.67 L722.99,240.51 L723.43,243.27 L723.87,245.96 L724.31,248.56 L724.75,251.08 L725.19,253.49 L725.63,255.81 L726.07,258.01 L726.51,260.10 L726.95,262.07 L727.39,263.92 L727.84,265.63 L728.28,267.22 L728.72,268.66 L729.16,269.96 L729.60,271.12 L730.04,272.13 L730.48,272.99 L730.92,273.69 L731.36,274.24 L731.80,274.63 L732.24,274.87 L732.68,274.95 M760.02,151.85 L760.46,151.93 L760.90,152.17 L761.34,152.56 L761.78,153.11 L762.22,153.81 L762.67,154.67 L763.11,155.68 L763.55,156.84 L763.99,158.14 L764.43,159.58 L764.87,161.17 L765.31,162.88 L765.75,164.73 L766.19,166.70 L766.63,168.79 L767.07,170.99 L767.52,173.31 L767.96,175.72 L768.40,178.24 L768.84,180.84 L769.28,183.53 L769.72,186.29 L770.16,189.13 L770.60,192.02 L771.04,194.97 L771.48,197.97 L771.92,201.01 L772.36,204.08 L772.81,207.17 L773.25,210.28 L773.69,213.40 L774.13,216.52 L774.57,219.63 L775.01,222.72 L775.45,225.79 L775.89,228.83 L776.33,231.83 L776.77,234.78 L777.21,237.67 L777.66,240.51 L778.10,243.27 L778.54,245.96 L778.98,248.56 L779.42,251.08 L779.86,253.49 L780.30,255.81 L780.74,258.01 L781.18,260.10 L781.62,262.07 L782.06,263.92 L782.51,265.63 L782.95,267.22 L783.39,268.66 L783.83,269.96 L784.27,271.12 L784.71,272.13 L785.15,272.99 L785.59,273.69 L786.03,274.24 L786.47,274.63 L786.91,274.87 L787.36,274.95 " style="stroke:#000;stroke-width:8.6;stroke-linejoin:round"/><path d="M432.00,151.85 L432.44,151.93 L432.88,152.17 L433.32,152.56 L433.76,153.11 L434.20,153.81 L434.65,154.67 L435.09,155.68 L435.53,156.84 L435.97,158.14 L436.41,159.58 L436.85,161.17 L437.29,162.88 L437.73,164.73 L438.17,166.70 L438.61,168.79 L439.05,170.99 L439.50,173.31 L439.94,175.72 L440.38,178.24 L440.82,180.84 L441.26,183.53 L441.70,186.29 L442.14,189.13 L442.58,192.02 L443.02,194.97 L443.46,197.97 L443.90,201.01 L444.34,204.08 L444.79,207.17 L445.23,210.28 L445.67,213.40 L446.11,216.52 L446.55,219.63 L446.99,222.72 L447.43,225.79 L447.87,228.83 L448.31,231.83 L448.75,234.78 L449.19,237.67 L449.64,240.51 L450.08,243.27 L450.52,245.96 L450.96,248.56 L451.40,251.08 L451.84,253.49 L452.28,255.81 L452.72,258.01 L453.16,260.10 L453.60,262.07 L454.04,263.92 L454.49,265.63 L454.93,267.22 L455.37,268.66 L455.81,269.96 L456.25,271.12 L456.69,272.13 L457.13,272.99 L457.57,273.69 L458.01,274.24 L458.45,274.63 L458.89,274.87 L459.33,274.95 M486.67,151.85 L487.11,151.93 L487.55,152.17 L487.99,152.56 L488.43,153.11 L488.87,153.81 L489.32,154.67 L489.76,155.68 L490.20,156.84 L490.64,158.14 L491.08,159.58 L491.52,161.17 L491.96,162.88 L492.40,164.73 L492.84,166.70 L493.28,168.79 L493.72,170.99 L494.17,173.31 L494.61,175.72 L495.05,178.24 L495.49,180.84 L495.93,183.53 L496.37,186.29 L496.81,189.13 L497.25,192.02 L497.69,194.97 L498.13,197.97 L498.57,201.01 L499.01,204.08 L499.46,207.17 L499.90,210.28 L500.34,213.40 L500.78,216.52 L501.22,219.63 L501.66,222.72 L502.10,225.79 L502.54,228.83 L502.98,231.83 L503.42,234.78 L503.86,237.67 L504.31,240.51 L504.75,243.27 L505.19,245.96 L505.63,248.56 L506.07,251.08 L506.51,253.49 L506.95,255.81 L507.39,258.01 L507.83,260.10 L508.27,262.07 L508.71,263.92 L509.16,265.63 L509.60,267.22 L510.04,268.66 L510.48,269.96 L510.92,271.12 L511.36,272.13 L511.80,272.99 L512.24,273.69 L512.68,274.24 L513.12,274.63 L513.56,274.87 L514.00,274.95 M541.34,151.85 L541.78,151.93 L542.22,152.17 L542.66,152.56 L543.10,153.11 L543.54,153.81 L543.99,154.67 L544.43,155.68 L544.87,156.84 L545.31,158.14 L545.75,159.58 L546.19,161.17 L546.63,162.88 L547.07,164.73 L547.51,166.70 L547.95,168.79 L548.39,170.99 L548.84,173.31 L549.28,175.72 L549.72,178.24 L550.16,180.84 L550.60,183.53 L551.04,186.29 L551.48,189.13 L551.92,192.02 L552.36,194.97 L552.80,197.97 L553.24,201.01 L553.68,204.08 L554.13,207.17 L554.57,210.28 L555.01,213.40 L555.45,216.52 L555.89,219.63 L556.33,222.72 L556.77,225.79 L557.21,228.83 L557.65,231.83 L558.09,234.78 L558.53,237.67 L558.98,240.51 L559.42,243.27 L559.86,245.96 L560.30,248.56 L560.74,251.08 L561.18,253.49 L561.62,255.81 L562.06,258.01 L562.50,260.10 L562.94,262.07 L563.38,263.92 L563.83,265.63 L564.27,267.22 L564.71,268.66 L565.15,269.96 L565.59,271.12 L566.03,272.13 L566.47,272.99 L566.91,273.69 L567.35,274.24 L567.79,274.63 L568.23,274.87 L568.67,274.95 M596.01,151.85 L596.45,151.93 L596.89,152.17 L597.33,152.56 L597.77,153.11 L598.21,153.81 L598.66,154.67 L599.10,155.68 L599.54,156.84 L599.98,158.14 L600.42,159.58 L600.86,161.17 L601.30,162.88 L601.74,164.73 L602.18,166.70 L602.62,168.79 L603.06,170.99 L603.51,173.31 L603.95,175.72 L604.39,178.24 L604.83,180.84 L605.27,183.53 L605.71,186.29 L606.15,189.13 L606.59,192.02 L607.03,194.97 L607.47,197.97 L607.91,201.01 L608.35,204.08 L608.80,207.17 L609.24,210.28 L609.68,213.40 L610.12,216.52 L610.56,219.63 L611.00,222.72 L611.44,225.79 L611.88,228.83 L612.32,231.83 L612.76,234.78 L613.20,237.67 L613.65,240.51 L614.09,243.27 L614.53,245.96 L614.97,248.56 L615.41,251.08 L615.85,253.49 L616.29,255.81 L616.73,258.01 L617.17,260.10 L617.61,262.07 L618.05,263.92 L618.50,265.63 L618.94,267.22 L619.38,268.66 L619.82,269.96 L620.26,271.12 L620.70,272.13 L621.14,272.99 L621.58,273.69 L622.02,274.24 L622.46,274.63 L622.90,274.87 L623.35,274.95 M650.68,151.85 L651.12,151.93 L651.56,152.17 L652.00,152.56 L652.44,153.11 L652.88,153.81 L653.33,154.67 L653.77,155.68 L654.21,156.84 L654.65,158.14 L655.09,159.58 L655.53,161.17 L655.97,162.88 L656.41,164.73 L656.85,166.70 L657.29,168.79 L657.73,170.99 L658.18,173.31 L658.62,175.72 L659.06,178.24 L659.50,180.84 L659.94,183.53 L660.38,186.29 L660.82,189.13 L661.26,192.02 L661.70,194.97 L662.14,197.97 L662.58,201.01 L663.02,204.08 L663.47,207.17 L663.91,210.28 L664.35,213.40 L664.79,216.52 L665.23,219.63 L665.67,222.72 L666.11,225.79 L666.55,228.83 L666.99,231.83 L667.43,234.78 L667.87,237.67 L668.32,240.51 L668.76,243.27 L669.20,245.96 L669.64,248.56 L670.08,251.08 L670.52,253.49 L670.96,255.81 L671.40,258.01 L671.84,260.10 L672.28,262.07 L672.72,263.92 L673.17,265.63 L673.61,267.22 L674.05,268.66 L674.49,269.96 L674.93,271.12 L675.37,272.13 L675.81,272.99 L676.25,273.69 L676.69,274.24 L677.13,274.63 L677.57,274.87 L678.01,274.95 M705.35,151.85 L705.79,151.93 L706.23,152.17 L706.67,152.56 L707.11,153.11 L707.55,153.81 L708.00,154.67 L708.44,155.68 L708.88,156.84 L709.32,158.14 L709.76,159.58 L710.20,161.17 L710.64,162.88 L711.08,164.73 L711.52,166.70 L711.96,168.79 L712.40,170.99 L712.85,173.31 L713.29,175.72 L713.73,178.24 L714.17,180.84 L714.61,183.53 L715.05,186.29 L715.49,189.13 L715.93,192.02 L716.37,194.97 L716.81,197.97 L717.25,201.01 L717.69,204.08 L718.14,207.17 L718.58,210.28 L719.02,213.40 L719.46,216.52 L719.90,219.63 L720.34,222.72 L720.78,225.79 L721.22,228.83 L721.66,231.83 L722.10,234.78 L722.54,237.67 L722.99,240.51 L723.43,243.27 L723.87,245.96 L724.31,248.56 L724.75,251.08 L725.19,253.49 L725.63,255.81 L726.07,258.01 L726.51,260.10 L726.95,262.07 L727.39,263.92 L727.84,265.63 L728.28,267.22 L728.72,268.66 L729.16,269.96 L729.60,271.12 L730.04,272.13 L730.48,272.99 L730.92,273.69 L731.36,274.24 L731.80,274.63 L732.24,274.87 L732.68,274.95 M760.02,151.85 L760.46,151.93 L760.90,152.17 L761.34,152.56 L761.78,153.11 L762.22,153.81 L762.67,154.67 L763.11,155.68 L763.55,156.84 L763.99,158.14 L764.43,159.58 L764.87,161.17 L765.31,162.88 L765.75,164.73 L766.19,166.70 L766.63,168.79 L767.07,170.99 L767.52,173.31 L767.96,175.72 L768.40,178.24 L768.84,180.84 L769.28,183.53 L769.72,186.29 L770.16,189.13 L770.60,192.02 L771.04,194.97 L771.48,197.97 L771.92,201.01 L772.36,204.08 L772.81,207.17 L773.25,210.28 L773.69,213.40 L774.13,216.52 L774.57,219.63 L775.01,222.72 L775.45,225.79 L775.89,228.83 L776.33,231.83 L776.77,234.78 L777.21,237.67 L777.66,240.51 L778.10,243.27 L778.54,245.96 L778.98,248.56 L779.42,251.08 L779.86,253.49 L780.30,255.81 L780.74,258.01 L781.18,260.10 L781.62,262.07 L782.06,263.92 L782.51,265.63 L782.95,267.22 L783.39,268.66 L783.83,269.96 L784.27,271.12 L784.71,272.13 L785.15,272.99 L785.59,273.69 L786.03,274.24 L786.47,274.63 L786.91,274.87 L787.36,274.95 " style="stroke:#fff;stroke-width:6.4"/></g>
<path d="M454.50,172.5 H493.27 M494.77,172.5 H547.94 M549.44,172.5 H602.61 M604.11,172.5 H657.28 M658.78,172.5 H711.95 M713.45,172.5 H766.62 M768.12,172.5 H784.50 "/>
<circle cx="818.4" cy="157.8" r="3" class="w" style="stroke-width:1.2"/>
<line x1="812.4" y1="154.2" x2="816" y2="156.6" class="n"/>
<rect x="821.5" y="148.5" width="8.0" height="130.0" class="w"/>
<rect x="829.5" y="159.5" width="16.0" height="107.0" class="w"/>
<rect x="845.5" y="147.5" width="165.0" height="132.0" class="w"/>
<path d="M868.5,147.5 V154.5 H987.5 V147.5 M868.5,279.5 V272.5 H987.5 V279.5"/>
<path d="M987.50,154.50 C988.63,156.02 992.02,159.80 994.30,163.60 C996.58,167.40 999.28,173.23 1001.20,177.30 C1003.12,181.37 1004.55,184.55 1005.80,188.00 C1007.05,191.45 1007.98,194.90 1008.70,198.00 C1009.42,201.10 1009.80,204.02 1010.10,206.60 C1010.40,209.18 1010.50,211.20 1010.50,213.50 C1010.50,215.80 1010.40,217.82 1010.10,220.40 C1009.80,222.98 1009.42,225.90 1008.70,229.00 C1007.98,232.10 1007.05,235.55 1005.80,239.00 C1004.55,242.45 1003.12,245.63 1001.20,249.70 C999.28,253.77 996.58,259.60 994.30,263.40 C992.02,267.20 988.63,270.98 987.50,272.50 M868.50,154.50 C867.37,156.02 863.98,159.80 861.70,163.60 C859.42,167.40 856.72,173.23 854.80,177.30 C852.88,181.37 851.45,184.55 850.20,188.00 C848.95,191.45 848.02,194.90 847.30,198.00 C846.58,201.10 846.20,204.02 845.90,206.60 C845.60,209.18 845.50,211.20 845.50,213.50 C845.50,215.80 845.60,217.82 845.90,220.40 C846.20,222.98 846.58,225.90 847.30,229.00 C848.02,232.10 848.95,235.55 850.20,239.00 C851.45,242.45 852.88,245.63 854.80,249.70 C856.72,253.77 859.42,259.60 861.70,263.40 C863.98,267.20 867.37,270.98 868.50,272.50"/>
<circle cx="904.5" cy="213.3" r="57.6"/><circle cx="904.5" cy="213.3" r="55.6" style="stroke-width:1.2"/>
<circle cx="904.5" cy="213.3" r="36.2" class="n" style="stroke-dasharray:8.5 2"/>
<circle cx="904.5" cy="213.3" r="30"/>
<polygon points="906.14,189.86 925.62,203.00 923.98,226.44 902.86,236.74 883.38,223.60 885.02,200.16" class="n"/>
<circle cx="904.5" cy="213.3" r="21.6" class="n" style="stroke-width:1"/>
<path style="stroke-dasharray:8.5 1.8" d="M862.5,177.5 H1010.5 M862.5,249.5 H1010.5"/>
<path class="n" style="stroke-dasharray:6 2" d="M856.5,189 V231"/>
<path class="n" style="stroke-width:1.2;stroke-dasharray:12 1.5 12 1.5 12 1.5 80" d="M862.5,177.5 V249.5"/>
<line x1="1020.3" y1="177.5" x2="1098" y2="177.5"/>
<line x1="1020.3" y1="249.5" x2="1098" y2="249.5"/>
<line x1="1076.5" y1="177.5" x2="1076.5" y2="249.5"/>
<path class="f" d="M1076.50,177.50 L1080.30,194.50 L1072.70,194.50 Z"/>
<path class="f" d="M1076.50,249.50 L1072.70,232.50 L1080.30,232.50 Z"/>
<text x="0" y="0" transform="translate(1067,213.5) rotate(-90) scale(0.9,1)" text-anchor="middle">G2</text>
<line x1="1042" y1="78.2" x2="986.2" y2="78.2"/>
<line x1="986.2" y1="78.2" x2="923.8" y2="182"/>
<path class="f" d="M923.80,182.00 L929.30,165.47 L935.82,169.39 Z"/>
<text x="0" y="0" transform="translate(1023.7,68) scale(0.9,1)" text-anchor="middle">G3</text>
<line x1="454.5" y1="33" x2="454.5" y2="149.4"/>
<line x1="784.5" y1="33" x2="784.5" y2="149.4"/>
<line x1="454.5" y1="54.5" x2="784.5" y2="54.5"/>
<path class="f" d="M454.50,54.50 L471.50,50.70 L471.50,58.30 Z"/>
<path class="f" d="M784.50,54.50 L767.50,58.30 L767.50,50.70 Z"/>
<text x="0" y="0" transform="translate(619.5,45) scale(0.9,1)" text-anchor="middle">H</text>
<line x1="145.5" y1="277" x2="145.5" y2="404"/>
<line x1="409.5" y1="288" x2="409.5" y2="404"/>
<line x1="145.5" y1="383.5" x2="409.5" y2="383.5"/>
<path class="f" d="M145.50,383.50 L162.50,379.70 L162.50,387.30 Z"/>
<path class="f" d="M409.50,383.50 L392.50,387.30 L392.50,379.70 Z"/>
<text x="0" y="0" transform="translate(278,372.5) scale(0.9,1)" text-anchor="middle">C</text>
<line x1="121.5" y1="269" x2="121.5" y2="445.5"/>
<line x1="1010.5" y1="288.7" x2="1010.5" y2="445.5"/>
<line x1="121.5" y1="424.5" x2="1010.5" y2="424.5"/>
<path class="f" d="M121.50,424.50 L138.50,420.70 L138.50,428.30 Z"/>
<path class="f" d="M1010.50,424.50 L993.50,428.30 L993.50,420.70 Z"/>
<text x="0" y="0" transform="translate(566,414) scale(0.9,1)" text-anchor="middle">B</text>
</svg></body></html>
